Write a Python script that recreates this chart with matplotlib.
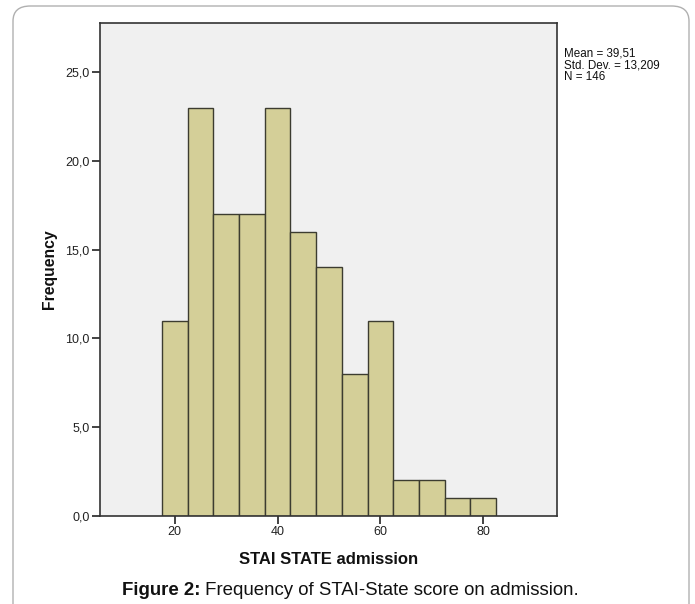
import matplotlib.pyplot as plt
from matplotlib.patches import FancyBboxPatch

# ─── DATA ─────────────────────────────────────────────────────────────────────
bin_left   = [17.5, 22.5, 27.5, 32.5, 37.5, 42.5, 47.5, 52.5, 57.5, 62.5, 67.5, 72.5, 77.5]
counts     = [11, 23, 17, 17, 23, 16, 14, 8, 11, 2, 2, 1, 1]
bin_width  = 5
x_ticks    = [20, 40, 60, 80]
y_ticks    = [0, 5, 10, 15, 20, 25]
y_labels   = ["0,0", "5,0", "10,0", "15,0", "20,0", "25,0"]
stats_text = "Mean = 39,51\nStd. Dev. = 13,209\nN = 146"

plt.rcParams['font.family'] = ['Liberation Sans', 'DejaVu Sans']

fig = plt.figure(figsize=(6.95, 6.04), dpi=100)

# outer rounded frame (open at the bottom)
frame = FancyBboxPatch((13/695, -0.05), (689-13)/695, (604-6)/604 + 0.05,
                       boxstyle="round,pad=0,rounding_size=0.025",
                       transform=fig.transFigure, facecolor='none',
                       edgecolor='#b0b0b0', lw=1.0, zorder=-5)
fig.patches.append(frame)

ax = fig.add_axes([100/695, 1-516/604, (556.7-100)/695, (516-23)/604])
ax.set_facecolor('#f0f0f0')
ax.bar(bin_left, counts, width=bin_width, align='edge',
       color='#d4cf98', edgecolor='#3c3c30', lw=1.0, zorder=2)

ax.set_xlim(5.48, 94.27)
ax.set_ylim(0, 27.76)
ax.set_xticks(x_ticks)
ax.set_yticks(y_ticks)
ax.set_yticklabels(y_labels)
ax.tick_params(axis='both', direction='out', length=6, width=1.2,
               color='#222222', labelsize=9, labelcolor='#222222', pad=1.5)
for s in ax.spines.values():
    s.set_color('#333333'); s.set_linewidth(1.2)

ax.set_xlabel("STAI STATE admission", fontsize=12, fontweight='bold',
              labelpad=10, color='#111111')
ax.set_ylabel("Frequency", fontsize=11.3, fontweight='bold',
              labelpad=6, color='#111111')

fig.text(564/695, 1-47/604, stats_text, fontsize=8.4, va='top', ha='left',
         linespacing=1.0, color='#111111')

# caption: bold prefix + regular text
t1 = fig.text(122/695, 1-595/604, "Figure 2:", fontsize=13.4, fontweight='bold',
              ha='left', va='baseline', color='#111111')
t2 = fig.text(0, 1-595/604, " Frequency of STAI-State score on admission.",
              fontsize=13.4, color='#111111', ha='left', va='baseline')
fig.canvas.draw()
bb = t1.get_window_extent()
t2.set_x(bb.x1 / fig.bbox.width)

fig.savefig("out.png", dpi=100)
